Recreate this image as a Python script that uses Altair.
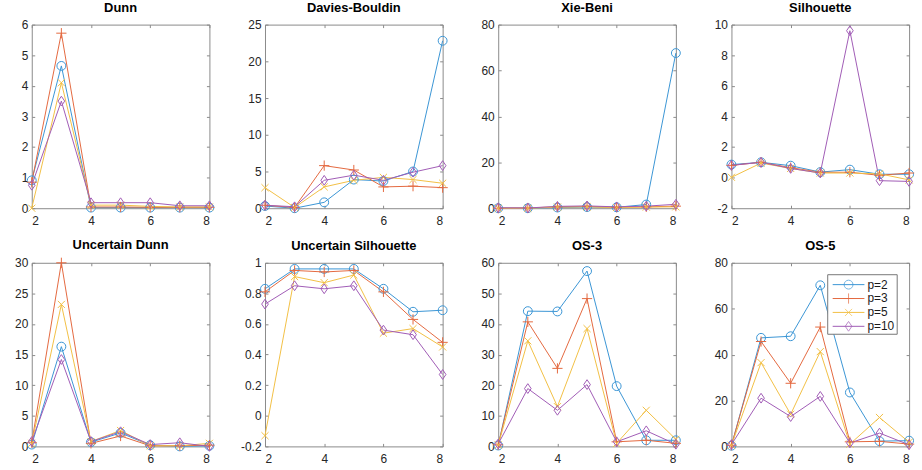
import altair as alt
import pandas as pd

# Number of clusters on the x axis
k_values = [2, 3, 4, 5, 6, 7, 8]
x_ticks = [2, 4, 6, 8]

# Series (fuzzifier p) with their colours and markers
series_labels = ["p=2", "p=3", "p=5", "p=10"]
series_colors = ["#3a95d5", "#e4693f", "#f2bf45", "#a05cb5"]
marker_shapes = [
    "circle",
    "M-1.15,0L1.15,0M0,-1.15L0,1.15",
    "M-0.8,-0.8L0.8,0.8M-0.8,0.8L0.8,-0.8",
    "M0,-1.1L0.75,0L0,1.1L-0.75,0Z",
]

# Index values, one row per series (p=2, p=3, p=5, p=10)
dunn = [
    [0.91, 4.65, 0.02, 0.02, 0.02, 0.02, 0.02],
    [0.85, 5.72, 0.04, 0.04, 0.03, 0.03, 0.03],
    [0.00, 4.10, 0.10, 0.10, 0.06, 0.04, 0.04],
    [0.75, 3.50, 0.18, 0.18, 0.18, 0.08, 0.08],
]
davies_bouldin = [
    [0.3, 0.0, 0.8, 3.9, 3.7, 5.0, 22.8],
    [0.4, 0.1, 5.8, 5.2, 2.9, 3.0, 2.8],
    [2.8, 0.1, 2.9, 3.8, 4.2, 3.9, 3.4],
    [0.4, 0.2, 3.8, 4.5, 3.8, 4.9, 5.8],
]
xie_beni = [
    [0.0, 0.0, 0.3, 0.5, 0.4, 1.6, 67.6],
    [0.0, 0.1, 0.6, 0.8, 0.4, 0.6, 0.9],
    [0.0, 0.0, 0.5, 0.6, 0.3, 0.5, 0.6],
    [0.2, 0.1, 0.8, 1.0, 0.6, 0.9, 1.7],
]
silhouette = [
    [0.85, 1.00, 0.78, 0.36, 0.52, 0.22, 0.22],
    [0.80, 1.00, 0.65, 0.35, 0.35, 0.15, 0.30],
    [0.02, 0.95, 0.60, 0.30, 0.30, 0.25, -0.15],
    [0.80, 1.00, 0.60, 0.30, 9.60, -0.20, -0.25],
]
uncertain_dunn = [
    [0.3, 16.3, 0.7, 2.2, 0.2, 0.0, 0.1],
    [0.6, 30.0, 0.5, 1.7, 0.1, 0.1, 0.2],
    [0.5, 23.2, 0.8, 2.6, 0.1, 0.1, 0.5],
    [0.8, 14.2, 0.8, 2.4, 0.3, 0.6, 0.0],
]
uncertain_silhouette = [
    [0.83, 0.96, 0.96, 0.96, 0.83, 0.68, 0.69],
    [0.81, 0.95, 0.94, 0.95, 0.81, 0.63, 0.48],
    [-0.13, 0.91, 0.87, 0.92, 0.54, 0.57, 0.45],
    [0.73, 0.85, 0.83, 0.85, 0.56, 0.53, 0.27],
]
os3 = [
    [0.3, 44.2, 44.1, 57.3, 19.7, 2.0, 2.0],
    [0.5, 40.7, 25.5, 48.3, 1.5, 2.0, 1.0],
    [0.5, 34.5, 13.0, 38.5, 1.0, 11.8, 2.3],
    [0.8, 18.9, 11.8, 20.2, 1.5, 5.1, 0.7],
]
os5 = [
    [0.3, 47.3, 48.0, 70.2, 23.5, 2.3, 2.5],
    [0.5, 45.7, 27.5, 52.0, 2.0, 2.2, 1.0],
    [0.5, 36.5, 14.0, 41.3, 1.0, 12.6, 1.8],
    [0.8, 21.0, 13.0, 21.8, 1.5, 5.8, 0.7],
]

# Y tick values per panel
dunn_ticks = [0, 1, 2, 3, 4, 5, 6]
db_ticks = [0, 5, 10, 15, 20, 25]
xb_ticks = [0, 20, 40, 60, 80]
sil_ticks = [-2, 0, 2, 4, 6, 8, 10]
ud_ticks = [0, 5, 10, 15, 20, 25, 30]
us_ticks = [-0.2, 0, 0.2, 0.4, 0.6, 0.8, 1]
os3_ticks = [0, 10, 20, 30, 40, 50, 60]
os5_ticks = [0, 20, 40, 60, 80]

FONT = "Liberation Sans"
FRAME = "#8a8a8a"
PANEL_W, PANEL_H = 179, 185

color_enc = alt.Color(
    "series:N", scale=alt.Scale(domain=series_labels, range=series_colors), legend=None
)
shape_enc = alt.Shape(
    "series:N", scale=alt.Scale(domain=series_labels, range=marker_shapes), legend=None
)


def axis(orient, values, labels=True):
    # ticks point into the box: the axis line sits 3px inside and its
    # outward ticks end exactly on the frame
    return alt.Axis(
        orient=orient,
        values=values,
        labels=labels,
        title=None,
        domain=False,
        grid=False,
        ticks=True,
        tickSize=3,
        tickColor=FRAME,
        offset=-3,
        labelPadding=7 if orient in ("bottom", "top") else 4,
        labelBaseline="top" if orient in ("bottom", "top") else "middle",
        labelFont=FONT,
        labelFontSize=12,
        labelColor="#262626",
        labelExpr="'' + datum.value",
    )


def panel(title, values, y_ticks, with_legend=False):
    df = pd.DataFrame(
        [
            {"k": k, "series": s, "value": v}
            for s, row in zip(series_labels, values)
            for k, v in zip(k_values, row)
        ]
    )
    x_scale = alt.Scale(domain=[2, 8], nice=False, zero=False)
    y_scale = alt.Scale(domain=[y_ticks[0], y_ticks[-1]], nice=False, zero=False)
    base = alt.Chart(df)

    lines = base.mark_line(strokeWidth=1).encode(
        x=alt.X("k:Q", scale=x_scale, axis=axis("bottom", x_ticks)),
        y=alt.Y("value:Q", scale=y_scale, axis=axis("left", y_ticks)),
        color=color_enc,
    )
    points = base.mark_point(filled=False, strokeWidth=1, size=80, opacity=1).encode(
        x=alt.X("k:Q", scale=x_scale, axis=None),
        y=alt.Y("value:Q", scale=y_scale, axis=None),
        color=color_enc,
        shape=shape_enc,
    )
    # carries the inward ticks on the top and right edges of the box
    edge_ticks = base.mark_point(opacity=0).encode(
        x=alt.X("k:Q", scale=x_scale, axis=axis("top", x_ticks, labels=False)),
        y=alt.Y("value:Q", scale=y_scale, axis=axis("right", y_ticks, labels=False)),
    )
    data_layer = alt.layer(lines, points, edge_ticks).resolve_axis(
        x="independent", y="independent"
    )

    if not with_legend:
        return data_layer.properties(width=PANEL_W, height=PANEL_H, title=title)

    leg_df = pd.DataFrame({"series": series_labels})
    leg_y = alt.Y(
        "series:N",
        scale=alt.Scale(type="point", domain=series_labels, range=[22, 64], padding=0),
        axis=None,
    )
    leg_base = alt.Chart(leg_df)
    box = alt.Chart(pd.DataFrame({"b": [0]})).mark_rect(
        fill="white", stroke="#777777", strokeWidth=1
    ).encode(x=alt.value(97), x2=alt.value(167), y=alt.value(12), y2=alt.value(72))
    leg_lines = leg_base.mark_rule(strokeWidth=1).encode(
        x=alt.value(102), x2=alt.value(134), y=leg_y, color=color_enc
    )
    leg_points = leg_base.mark_point(filled=False, strokeWidth=1, size=80).encode(
        x=alt.value(118), y=leg_y, color=color_enc, shape=shape_enc
    )
    leg_text = leg_base.mark_text(
        align="left", baseline="middle", font=FONT, fontSize=12, color="#1a1a1a"
    ).encode(x=alt.value(137), y=leg_y, text="series:N")
    legend_layer = alt.layer(box, leg_lines, leg_points, leg_text)

    return (
        alt.layer(data_layer, legend_layer)
        .resolve_scale(y="independent")
        .resolve_axis(x="independent", y="independent")
        .properties(width=PANEL_W, height=PANEL_H, title=title)
    )


panels = [
    panel("Dunn", dunn, dunn_ticks),
    panel("Davies-Bouldin", davies_bouldin, db_ticks),
    panel("Xie-Beni", xie_beni, xb_ticks),
    panel("Silhouette", silhouette, sil_ticks),
    panel("Uncertain Dunn", uncertain_dunn, ud_ticks),
    panel("Uncertain Silhouette", uncertain_silhouette, us_ticks),
    panel("OS-3", os3, os3_ticks),
    panel("OS-5", os5, os5_ticks, with_legend=True),
]

chart = (
    alt.concat(*panels, columns=4, spacing={"row": 55, "column": 56}, bounds="flush")
    .properties(padding={"left": 14, "top": -1, "right": 5, "bottom": 5}, background="white")
    .configure_view(stroke=FRAME, strokeWidth=1)
    .configure_title(
        font=FONT, fontSize=13, fontWeight="bold", color="#000000", offset=4,
        baseline="alphabetic", anchor="middle",
    )
)

chart.save("out.html", embed_options={"renderer": "svg", "actions": False})
